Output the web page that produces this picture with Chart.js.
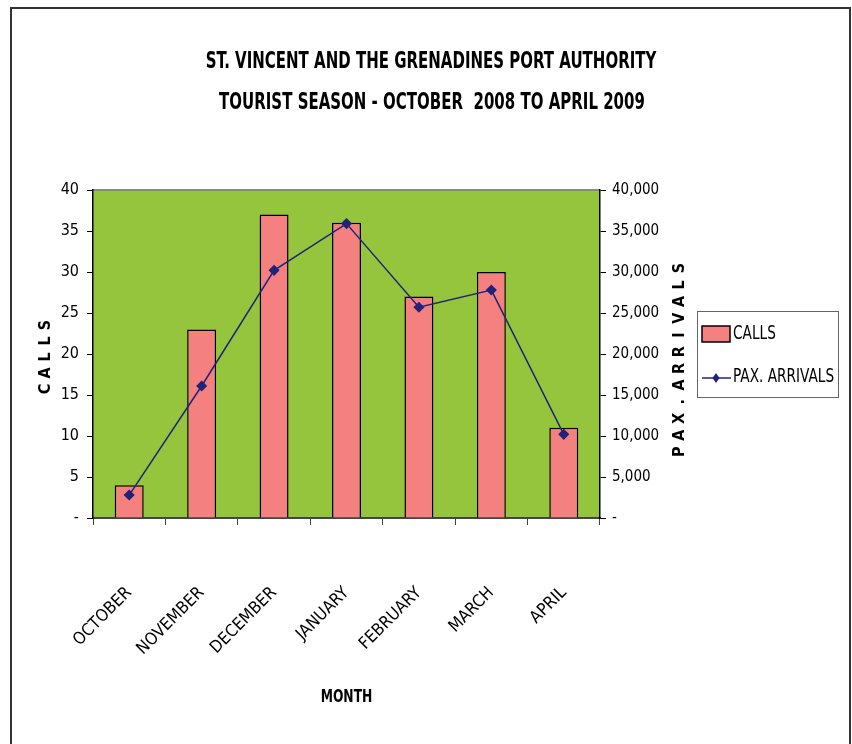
<!DOCTYPE html>
<html>
<head>
<meta charset="utf-8">
<script src="https://cdn.jsdelivr.net/npm/chart.js@4"></script>
<style>
  html, body { margin: 0; padding: 0; background: #fff; }
  #wrap { position: relative; width: 852px; height: 744px; }
</style>
</head>
<body>
<div id="wrap"><canvas id="chart" width="852" height="744"></canvas></div>
<script>
const months = ["OCTOBER", "NOVEMBER", "DECEMBER", "JANUARY", "FEBRUARY", "MARCH", "APRIL"];
const calls = [4, 23, 37, 36, 27, 30, 11];
const paxArrivals = [2800, 16100, 30200, 35900, 25700, 27800, 10200];
const titleLines = ["ST. VINCENT AND THE GRENADINES PORT AUTHORITY", "TOURIST SEASON - OCTOBER  2008 TO APRIL 2009"];

const NARROW = "'Liberation Sans Narrow', 'DejaVu Sans Condensed', sans-serif";
const GREEN = '#95C43D';
const PINK = '#F48080';
const NAVY = '#1F2478';

// draw text squeezed to look like a narrow face
function narrowText(ctx, text, x, y, squeeze, align) {
  const w = ctx.measureText(text).width * squeeze;
  let left = x;
  if (align === 'center') left = x - w / 2;
  ctx.save();
  ctx.textAlign = 'left';
  ctx.translate(left, y);
  ctx.scale(squeeze, 1);
  ctx.fillText(text, 0, 0);
  ctx.restore();
}

// letter-spaced vertical title, reading bottom to top
function verticalSpaced(ctx, text, cx, cy, step) {
  const chars = text.split('');
  const span = step * (chars.length - 1);
  ctx.save();
  ctx.translate(cx, cy);
  ctx.rotate(-Math.PI / 2);
  ctx.textAlign = 'center';
  chars.forEach((c, i) => ctx.fillText(c, -span / 2 + i * step, 0));
  ctx.restore();
}

const decorations = {
  id: 'decorations',
  beforeDraw(chart) {
    const { ctx, chartArea: a } = chart;
    ctx.save();
    ctx.fillStyle = GREEN;
    ctx.fillRect(a.left, a.top, a.right - a.left, a.bottom - a.top);
    ctx.strokeStyle = '#888';
    ctx.lineWidth = 2;
    ctx.beginPath();
    ctx.moveTo(a.left, a.top);
    ctx.lineTo(a.right, a.top);
    ctx.stroke();
    ctx.restore();
  },
  afterDraw(chart) {
    const { ctx, chartArea: a } = chart;
    ctx.save();
    // outer frame
    ctx.strokeStyle = '#333';
    ctx.lineWidth = 2;
    ctx.beginPath();
    ctx.moveTo(11, 760);
    ctx.lineTo(11, 8);
    ctx.lineTo(850, 8);
    ctx.lineTo(850, 760);
    ctx.stroke();

    // title
    ctx.fillStyle = '#000';
    ctx.textBaseline = 'middle';
    ctx.font = 'bold 23px ' + NARROW;
    narrowText(ctx, titleLines[0], 431, 62, 0.725, 'center');
    narrowText(ctx, titleLines[1], 432, 103, 0.725, 'center');

    // axis titles
    const midY = (a.top + a.bottom) / 2;
    ctx.font = 'bold 16px ' + NARROW;
    verticalSpaced(ctx, 'CALLS', 46, midY + 3, 16);
    verticalSpaced(ctx, 'PAX.ARRIVALS', 680, midY + 6, 16.7);
    ctx.font = 'bold 18px ' + NARROW;
    narrowText(ctx, 'MONTH', (a.left + a.right) / 2, 697, 0.76, 'center');

    // legend
    const bars = chart.data.datasets.find(d => d.type === 'bar');
    const line = chart.data.datasets.find(d => d.type === 'line');
    ctx.strokeStyle = '#666';
    ctx.lineWidth = 1;
    ctx.strokeRect(697.5, 311.5, 141, 86);
    ctx.fillStyle = bars.backgroundColor;
    ctx.fillRect(702, 326, 28, 16);
    ctx.strokeStyle = '#000';
    ctx.lineWidth = 1.5;
    ctx.strokeRect(702, 326, 28, 16);
    ctx.strokeStyle = line.borderColor;
    ctx.lineWidth = 1.5;
    ctx.beginPath();
    ctx.moveTo(702, 378);
    ctx.lineTo(731, 378);
    ctx.stroke();
    ctx.fillStyle = line.borderColor;
    ctx.beginPath();
    ctx.moveTo(716, 373);
    ctx.lineTo(719.5, 378);
    ctx.lineTo(716, 383);
    ctx.lineTo(712.5, 378);
    ctx.closePath();
    ctx.fill();
    ctx.fillStyle = '#000';
    ctx.font = '19px ' + NARROW;
    narrowText(ctx, bars.label, 733, 334, 0.8, 'left');
    narrowText(ctx, line.label, 733, 377, 0.8, 'left');
    ctx.restore();
  }
};

new Chart(document.getElementById('chart'), {
  data: {
    labels: months,
    datasets: [
      {
        type: 'line',
        label: 'PAX. ARRIVALS',
        data: paxArrivals,
        yAxisID: 'y1',
        borderColor: NAVY,
        backgroundColor: NAVY,
        borderWidth: 1.5,
        pointStyle: 'rectRot',
        pointRadius: 4.5,
        pointHoverRadius: 4.5,
        tension: 0,
        order: 0
      },
      {
        type: 'bar',
        label: 'CALLS',
        data: calls,
        yAxisID: 'y',
        backgroundColor: PINK,
        borderColor: '#000',
        borderWidth: 1.5,
        borderSkipped: 'bottom',
        barPercentage: 0.4,
        categoryPercentage: 1,
        order: 1
      }
    ]
  },
  options: {
    responsive: false,
    animation: false,
    layout: { padding: { left: 40, right: 0, top: 190, bottom: 0 } },
    plugins: {
      legend: { display: false },
      title: { display: false },
      tooltip: { enabled: false }
    },
    scales: {
      x: {
        offset: true,
        afterFit(s) { s.height = 226; },
        grid: { offset: true, drawOnChartArea: false, tickLength: 7, color: '#444', tickColor: '#444' },
        border: { color: '#444', width: 2 },
        ticks: {
          minRotation: 45,
          maxRotation: 45,
          padding: 58,
          color: '#000',
          font: { family: NARROW, size: 17 }
        }
      },
      y: {
        position: 'left',
        min: 0,
        max: 40,
        afterFit(s) { s.width = 53; },
        grid: { drawOnChartArea: false, tickLength: 6, color: '#000' },
        border: { color: '#000', width: 1.5 },
        ticks: {
          stepSize: 5,
          padding: 8,
          color: '#000',
          font: { family: NARROW, size: 16 },
          callback: v => v === 0 ? '-' : String(v)
        }
      },
      y1: {
        position: 'right',
        min: 0,
        max: 40000,
        afterFit(s) { s.width = 252; },
        grid: { drawOnChartArea: false, tickLength: 6, color: '#000' },
        border: { color: '#000', width: 1.5 },
        ticks: {
          stepSize: 5000,
          padding: 6,
          color: '#000',
          font: { family: NARROW, size: 15 },
          callback: v => v === 0 ? '-' : v.toLocaleString('en-US')
        }
      }
    }
  },
  plugins: [decorations]
});
</script>
</body>
</html>
